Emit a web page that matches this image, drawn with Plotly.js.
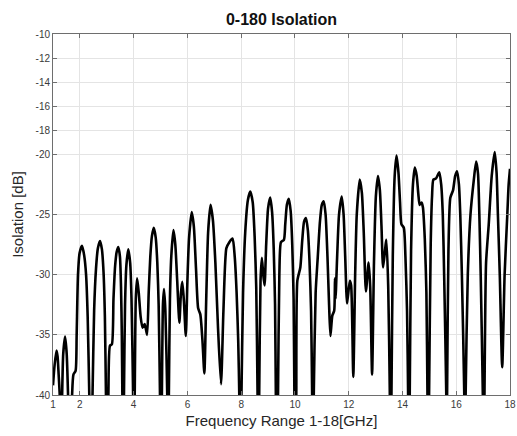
<!DOCTYPE html>
<html>
<head>
<meta charset="utf-8">
<script src="https://cdn.plot.ly/plotly-3.0.1.min.js"></script>
<style>html,body{margin:0;padding:0;background:#fff;}#chart{width:517px;height:436px;}</style>
</head>
<body>
<div id="chart"></div>
<script>
// Frequency (GHz) samples
const freqGHz = [1.00,1.06,1.13,1.17,1.21,1.25,1.295,1.34,1.38,1.45,1.51,1.56,1.635,1.71,1.76,1.84,1.88,1.93,1.99,2.08,2.16,2.23,2.29,2.35,2.41,2.47,2.53,2.60,2.67,2.75,2.82,2.88,2.93,2.97,3.015,3.06,3.12,3.19,3.25,3.31,3.37,3.43,3.49,3.53,3.56,3.58,3.61,3.64,3.68,3.73,3.80,3.87,3.92,3.98,4.01,4.04,4.08,4.13,4.19,4.26,4.33,4.41,4.50,4.56,4.62,4.68,4.75,4.82,4.88,4.93,4.98,5.015,5.05,5.09,5.13,5.18,5.25,5.28,5.31,5.35,5.40,5.48,5.55,5.62,5.70,5.76,5.81,5.87,5.94,6.00,6.06,6.16,6.24,6.32,6.40,6.48,6.56,6.63,6.70,6.77,6.86,6.95,7.04,7.14,7.25,7.34,7.45,7.56,7.68,7.76,7.83,7.89,7.93,7.97,8.01,8.07,8.15,8.25,8.34,8.43,8.50,8.56,8.61,8.64,8.67,8.72,8.77,8.82,8.87,8.93,9.00,9.08,9.15,9.21,9.26,9.29,9.33,9.37,9.42,9.48,9.59,9.64,9.70,9.77,9.84,9.90,9.95,9.98,10.02,10.05,10.09,10.20,10.27,10.34,10.41,10.48,10.54,10.60,10.64,10.67,10.70,10.77,10.85,10.93,11.00,11.07,11.14,11.21,11.27,11.32,11.39,11.46,11.49,11.51,11.57,11.64,11.74,11.81,11.87,11.94,12.04,12.09,12.17,12.24,12.30,12.41,12.49,12.56,12.64,12.74,12.80,12.87,12.94,13.01,13.09,13.16,13.22,13.28,13.40,13.47,13.53,13.56,13.59,13.64,13.71,13.78,13.85,13.91,13.96,14.05,14.11,14.17,14.21,14.24,14.27,14.32,14.39,14.46,14.53,14.59,14.64,14.71,14.76,14.83,14.89,14.93,14.96,14.99,15.05,15.10,15.15,15.25,15.37,15.44,15.50,15.55,15.63,15.645,15.66,15.71,15.78,15.88,15.96,16.03,16.10,16.15,16.21,16.30,16.325,16.35,16.43,16.53,16.65,16.74,16.81,16.86,16.91,16.99,17.02,17.05,17.11,17.21,17.32,17.43,17.50,17.55,17.62,17.71,17.80,17.90,17.95,18.00];
// Isolation (dB) values
const isolationDb = [-39.2,-37.5,-36.3,-36.8,-38.3,-40,-47,-40,-36.6,-35.15,-36.6,-40,-47,-40,-38.3,-38.0,-35.0,-30.0,-28.2,-27.6,-28.4,-30.0,-33.5,-40,-47,-40,-33.0,-29.5,-27.8,-27.2,-27.9,-29.8,-33.5,-40,-47,-40,-35.9,-35.8,-32.0,-29.3,-28.1,-27.7,-28.5,-31.0,-35.0,-40,-47,-40,-32.5,-29.2,-27.9,-29.0,-32.0,-40,-47,-40,-32.0,-30.3,-31.5,-33.5,-34.4,-34.1,-35.0,-31.5,-28.5,-26.8,-26.1,-26.9,-29.0,-32.5,-40,-47,-40,-32.5,-31.2,-33.0,-40,-47,-40,-32.0,-28.5,-26.3,-27.5,-30.5,-34.0,-31.5,-30.6,-32.2,-35.1,-30.5,-27.0,-24.8,-26.0,-29.5,-32.8,-33.3,-35.5,-38.2,-32.0,-26.5,-24.2,-25.5,-29.0,-34.5,-39.1,-33.0,-27.8,-27.3,-27.0,-28.5,-31.5,-35.5,-40,-47,-40,-31.5,-26.5,-23.8,-23.1,-24.0,-26.8,-31.0,-40,-47,-40,-30.5,-28.6,-30.0,-30.9,-27.5,-24.5,-23.6,-24.8,-27.8,-32.5,-40,-47,-40,-30.0,-27.3,-27.1,-25.8,-24.2,-23.7,-24.7,-27.5,-32.0,-40,-47,-40,-30.5,-29.4,-27.2,-25.6,-25.3,-26.3,-28.8,-33.0,-40,-47,-40,-31.5,-28.5,-25.6,-24.2,-23.9,-25.0,-28.5,-32.5,-35.1,-33.4,-33.0,-30.3,-32.0,-28.5,-25.0,-23.5,-25.0,-28.5,-32.4,-30.5,-30.9,-38.5,-30.0,-25.0,-22.1,-23.2,-26.5,-31.4,-29.0,-31.0,-38.3,-29.0,-23.5,-21.8,-23.0,-26.0,-29.4,-27.1,-31.0,-40,-47,-40,-28.5,-21.8,-20.1,-21.5,-24.0,-25.8,-26.1,-28.5,-33.0,-40,-47,-40,-28.0,-22.5,-21.1,-21.8,-23.3,-24.2,-24.0,-24.4,-27.0,-31.5,-40,-47,-40,-27.5,-23.5,-22.1,-22.0,-21.5,-22.5,-25.0,-30.0,-40,-47,-40,-28.0,-23.6,-23.0,-21.8,-21.4,-22.5,-25.0,-30.0,-40,-47,-40,-30.0,-25.0,-22.2,-20.6,-21.6,-25.0,-30.0,-40,-47,-40,-29.0,-25.8,-21.8,-19.8,-21.5,-25.0,-30.0,-37.7,-30.0,-25.0,-22.5,-21.2];
const xTicks = [1,2,4,6,8,10,12,14,16,18];
const yTicks = [-10,-12,-14,-16,-18,-20,-25,-30,-35,-40];

const trace = {
  x: freqGHz, y: isolationDb, type: 'scatter', mode: 'lines',
  line: {color: '#000000', width: 2.6, shape: 'spline', smoothing: 0.6},
  hoverinfo: 'skip'
};
const axisCommon = {
  showline: true, mirror: 'ticks', linecolor: '#6e6e6e', linewidth: 1,
  ticks: 'inside', ticklen: 4, tickcolor: '#6e6e6e',
  showgrid: true, gridcolor: '#e4e4e4', gridwidth: 1, zeroline: false,
  tickfont: {family: 'Liberation Sans, Arial, sans-serif', size: 10, color: '#3a3a3a'}
};
const layout = {
  width: 517, height: 436,
  margin: {l: 53, r: 7, t: 34, b: 41},
  paper_bgcolor: '#ffffff', plot_bgcolor: '#ffffff',
  showlegend: false,
  title: {text: '<b>0-180 Isolation</b>', x: 0.5, xref: 'paper', xanchor: 'center',
          y: 0.955, yref: 'container', yanchor: 'middle',
          font: {family: 'Liberation Sans, Arial, sans-serif', size: 16, color: '#111'}},
  xaxis: Object.assign({}, axisCommon, {
    range: [1, 18], tickvals: xTicks, ticktext: xTicks.map(String),
    title: {text: 'Frequency Range 1-18[GHz]', standoff: 6,
            font: {family: 'Liberation Sans, Arial, sans-serif', size: 15, color: '#262626'}}
  }),
  yaxis: Object.assign({}, axisCommon, {
    range: [-40, -10], tickvals: yTicks, ticktext: yTicks.map(String),
    title: {text: 'Isolation [dB]', standoff: 8,
            font: {family: 'Liberation Sans, Arial, sans-serif', size: 15, color: '#262626'}}
  })
};
Plotly.newPlot('chart', [trace], layout, {displayModeBar: false, staticPlot: true});
</script>
</body>
</html>
